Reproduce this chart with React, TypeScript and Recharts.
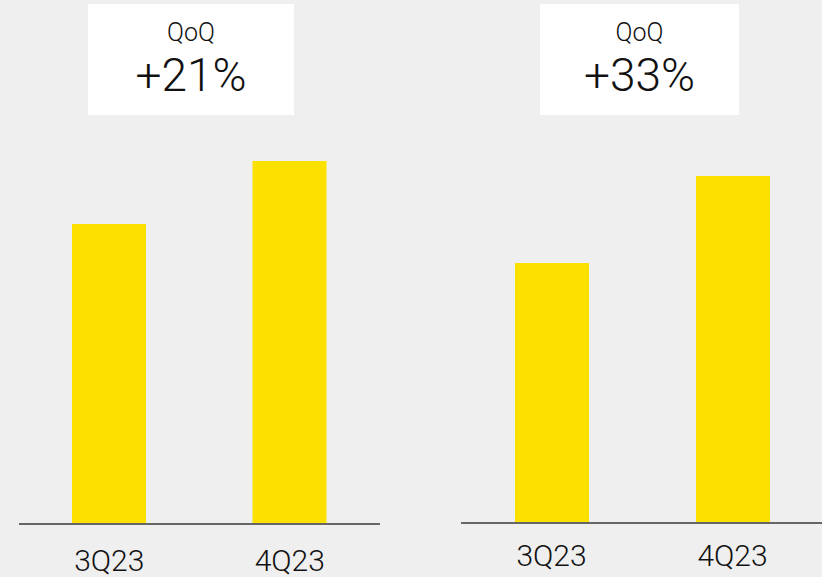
import React from 'react';
import { BarChart, Bar, XAxis, YAxis } from 'recharts';

const quarters = ['3Q23', '4Q23'];
const leftValues = [300, 363];
const rightValues = [260, 347];
const growthLabels = ['+21%', '+33%'];
const growthCaption = 'QoQ';

const BG = '#efefef';
const YELLOW = '#fce000';
const FONT = 'Roboto, "Liberation Sans", sans-serif';

const toRows = (values: number[]) =>
  quarters.map((q, i) => ({ quarter: q, value: values[i] }));

interface PanelProps {
  values: number[];
  left: number;
  width: number;
  marginLeft: number;
  marginRight: number;
  plotBottom: number;
  tickMargin: number;
}

function Panel({ values, left, width, marginLeft, marginRight, plotBottom, tickMargin }: PanelProps) {
  const height = 577;
  return (
    <div style={{ position: 'absolute', left, top: 0 }}>
      <BarChart
        width={width}
        height={height}
        data={toRows(values)}
        margin={{ top: plotBottom - 400, right: marginRight, left: marginLeft, bottom: 0 }}
        barSize={74}
      >
        <XAxis
          dataKey="quarter"
          height={height - plotBottom}
          tickLine={false}
          tickMargin={tickMargin}
          axisLine={{ stroke: '#666666', strokeWidth: 2 }}
          tick={{ fill: '#111111', fontSize: 30, fontFamily: FONT, fontWeight: 300 }}
        />
        <YAxis hide domain={[0, 400]} />
        <Bar dataKey="value" fill={YELLOW} isAnimationActive={false} />
      </BarChart>
    </div>
  );
}

function GrowthBox({ x, width, label }: { x: number; width: number; label: string }) {
  const cx = x + width / 2;
  return (
    <g>
      <rect x={x} y={4} width={width} height={111} fill="#ffffff" />
      <text x={cx} y={41} textAnchor="middle" fontSize={25} fontWeight={300} fontFamily={FONT} fill="#111111">
        {growthCaption}
      </text>
      <text x={cx} y={91} textAnchor="middle" fontSize={46} fontWeight={300} fontFamily={FONT} fill="#111111">
        {label}
      </text>
    </g>
  );
}

export default function App() {
  return (
    <div
      style={{
        position: 'fixed',
        left: 0,
        top: 0,
        width: 822,
        height: 577,
        background: BG,
        overflow: 'hidden',
      }}
    >
      <Panel values={leftValues} left={0} width={400} marginLeft={19} marginRight={20} plotBottom={524} tickMargin={20} />
      <Panel values={rightValues} left={411} width={412} marginLeft={50} marginRight={0} plotBottom={523} tickMargin={16} />
      <svg width={822} height={130} style={{ position: 'absolute', left: 0, top: 0 }}>
        <GrowthBox x={88} width={206} label={growthLabels[0]} />
        <GrowthBox x={540} width={199} label={growthLabels[1]} />
      </svg>
    </div>
  );
}
